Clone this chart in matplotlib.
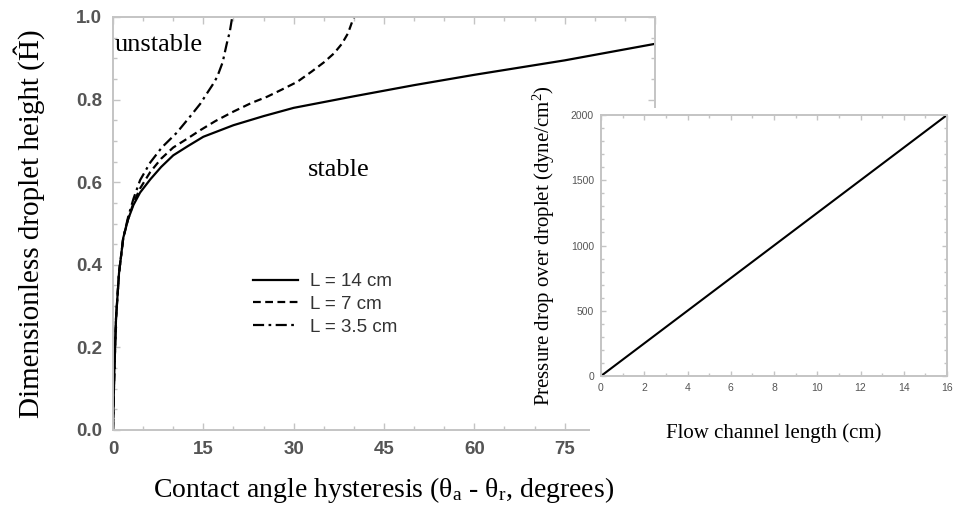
"""Droplet stability vs contact angle hysteresis, with pressure-drop inset."""

import matplotlib
matplotlib.use("Agg")
import matplotlib.pyplot as plt
from matplotlib.ticker import MultipleLocator

plt.rcParams["mathtext.fontset"] = "custom"
plt.rcParams["mathtext.rm"] = "Liberation Serif"
plt.rcParams["mathtext.it"] = "Liberation Serif:italic"

SERIF = "Liberation Serif"
SANS = "Liberation Sans"
SPINE = "#c4c4c4"
TICKLBL = "#555555"

# main panel: dimensionless height vs hysteresis (degrees)
theta_14 = [0, 0.2, 0.5, 1.0, 1.7, 2.5, 3.4, 4.5, 6.2, 8, 10, 12.5, 15, 20, 25, 30, 40, 50, 60, 75, 90]
h_14 = [0, 0.13, 0.27, 0.38, 0.465, 0.51, 0.545, 0.575, 0.607, 0.637, 0.665, 0.688, 0.71, 0.738, 0.76, 0.78,
        0.808, 0.835, 0.86, 0.895, 0.935]

theta_7 = [0, 0.2, 0.5, 1.0, 1.7, 2.5, 3.4, 4.5, 6.2, 8, 10, 12.5, 14.5, 17, 20, 23, 25.6, 28, 30.6, 33, 35,
           36.7, 38, 39, 40]
h_7 = [0, 0.13, 0.27, 0.38, 0.465, 0.51, 0.55, 0.585, 0.625, 0.657, 0.684, 0.707, 0.726, 0.748, 0.771, 0.792,
       0.807, 0.824, 0.843, 0.868, 0.89, 0.912, 0.935, 0.96, 1.0]

theta_35 = [0, 0.2, 0.5, 1.0, 1.7, 2.5, 3.4, 4.5, 6.2, 8.1, 10.6, 12.8, 14.5, 15.6, 16.5, 17.3, 18.2, 18.9,
            19.4, 19.8]
h_35 = [0, 0.13, 0.27, 0.38, 0.465, 0.515, 0.56, 0.605, 0.648, 0.684, 0.72, 0.759, 0.79, 0.815, 0.835, 0.855,
        0.89, 0.936, 0.965, 1.0]

labels = ["L = 14 cm", "L = 7 cm", "L = 3.5 cm"]

# inset: pressure drop vs channel length
channel_len = [0, 16]
pressure_drop = [0, 2000]


def style_axes(ax, size, pad, length, weight="normal"):
    for s in ax.spines.values():
        s.set_color(SPINE)
        s.set_linewidth(1.4)
    ax.tick_params(which="both", direction="in", top=True, right=True, color=SPINE,
                   labelcolor=TICKLBL, labelsize=size, pad=pad, width=1.0)
    ax.tick_params(which="major", length=length)
    ax.tick_params(which="minor", length=length * 0.6)
    for lbl in ax.get_xticklabels() + ax.get_yticklabels():
        lbl.set_fontfamily(SANS)
        lbl.set_fontweight(weight)


fig = plt.figure(figsize=(9.59, 5.08), dpi=100)
W, H = 959, 508

ax = fig.add_axes([113 / W, 1 - 430 / H, 542 / W, 413 / H])
ax.plot(theta_14, h_14, color="black", lw=1.6, ls="-", label=labels[0])
ax.plot(theta_7, h_7, color="black", lw=1.6, ls=(0, (3.5, 2)), label=labels[1])
ax.plot(theta_35, h_35, color="black", lw=1.6, ls=(0, (5, 2, 1.2, 2)), label=labels[2])
ax.set_xlim(0, 90)
ax.set_ylim(0, 1.0)
ax.xaxis.set_major_locator(MultipleLocator(15))
ax.xaxis.set_minor_locator(MultipleLocator(5))
ax.yaxis.set_major_locator(MultipleLocator(0.2))
ax.yaxis.set_minor_locator(MultipleLocator(0.05))
ax.yaxis.set_major_formatter(plt.FormatStrFormatter("%.1f"))
style_axes(ax, 13.5, 8, 5, "bold")

ax.set_ylabel("Dimensionless droplet height (Ĥ)", fontfamily=SERIF, fontsize=21, labelpad=22)
ax.set_xlabel("Contact angle hysteresis (θ$_{\\mathrm{a}}$ - θ$_{\\mathrm{r}}$, degrees)",
              fontfamily=SERIF, fontsize=20, labelpad=12)
ax.text(0.3, 0.918, "unstable", fontfamily=SERIF, fontsize=19, va="baseline")
ax.text(32.3, 0.615, "stable", fontfamily=SERIF, fontsize=19, va="baseline")

leg = ax.legend(loc="upper left", bbox_to_anchor=(0.258, 0.38), frameon=False, borderpad=0,
                borderaxespad=0, handlelength=2.4, handletextpad=0.65, labelspacing=0.3,
                prop={"family": SANS, "size": 13.5})
for t in leg.get_texts():
    t.set_color("#333333")

# white block hiding the lower right of the main panel behind the inset
cover = fig.add_axes([590 / W, 1 - 470 / H, (W - 590) / W, (470 - 108) / H])
cover.set_xticks([])
cover.set_yticks([])
for s in cover.spines.values():
    s.set_visible(False)

ins = fig.add_axes([601 / W, 1 - 376 / H, 346 / W, 261 / H])
ins.plot(channel_len, pressure_drop, color="black", lw=1.5)
ins.set_xlim(0, 16)
ins.set_ylim(0, 2000)
ins.xaxis.set_major_locator(MultipleLocator(2))
ins.xaxis.set_minor_locator(MultipleLocator(1))
ins.yaxis.set_major_locator(MultipleLocator(500))
ins.yaxis.set_minor_locator(MultipleLocator(100))
style_axes(ins, 7.5, 5, 3.5)
ins.set_ylabel("Pressure drop over droplet (dyne/cm$^{\\mathrm{2}}$)", fontfamily=SERIF, fontsize=15,
               labelpad=10)
ins.set_xlabel("Flow channel length (cm)", fontfamily=SERIF, fontsize=15, labelpad=22)

fig.savefig("out.png", dpi=100)
